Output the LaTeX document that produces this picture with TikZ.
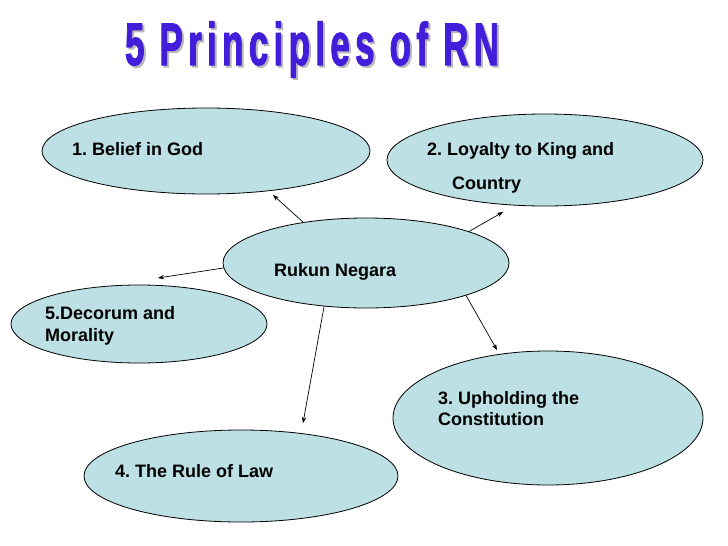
\documentclass[tikz,border=0pt]{standalone}
\usepackage{fontspec}
\setmainfont{Liberation Sans}
\newfontfamily\titlefont[LetterSpace=15,FakeBold=2]{Liberation Sans}
\usetikzlibrary{shapes.geometric, arrows.meta}

\definecolor{rnblue}{RGB}{188,224,228}
\definecolor{rntitle}{RGB}{66,30,218}
\newcommand{\rntitletext}{\scalebox{0.585}[1]{\titlefont\bfseries\fontsize{60}{60}\selectfont 5 Principles of RN}}

\begin{document}
\frenchspacing
\begin{tikzpicture}[x=1pt, y=-1pt, >={Stealth[length=6pt,width=4.5pt]},
  principle/.style={ellipse, draw=black, line width=0.8pt, fill=rnblue, inner sep=0pt},
  ptext/.style={anchor=base west, inner sep=0pt, align=left,
                font=\bfseries\fontsize{18}{21}\selectfont}]

\useasboundingbox[fill=white] (0,0) rectangle (728,546);

% ---- Title (with its grey shadow) --------------------------------------
\node[anchor=base, inner sep=0pt, text=rntitle] (title) at (312,65)
      {\rlap{\kern2pt\raisebox{-2pt}{\color{gray!55}\rntitletext}}\rntitletext};

% ---- Ellipses -----------------------------------------------------------
\node[principle, minimum width=328, minimum height=86]  (belief)    at (206,151) {};
\node[principle, minimum width=316, minimum height=92]  (loyalty)   at (545,160) {};
\node[principle, minimum width=286, minimum height=90]  (rukun)     at (366,263) {};
\node[principle, minimum width=256, minimum height=78]  (decorum)   at (139,324) {};
\node[principle, minimum width=310, minimum height=134] (upholding) at (548,418) {};
\node[principle, minimum width=314, minimum height=92]  (rulelaw)   at (241,476) {};

% ---- Texts (base = baseline of the last line) ---------------------------
\node[ptext] (belieftext)    at (72,155)  {1. Belief in God};
\node[ptext] (loyaltytext)   at (427,189) {2. Loyalty to King and\\[13pt]\hspace*{25pt}Country};
\node[ptext] (rukuntext)     at (274,276) {Rukun Negara};
\node[ptext] (decorumtext)   at (45,341)  {5.Decorum and\\[1pt]Morality};
\node[ptext] (upholdingtext) at (438,425) {3. Upholding the\\Constitution};
\node[ptext] (ruletext)      at (115,477) {4. The Rule of Law};

% ---- Arrows -------------------------------------------------------------
\coordinate (tipbelief)    at (273,195);
\coordinate (tiployalty)   at (503,212);
\coordinate (tipdecorum)   at (158,278);
\coordinate (tiprule)      at (303,423);
\coordinate (tipupholding) at (497,350);
\foreach \a/\t in {147/tipbelief, 17/tiployalty, 182/tipdecorum, 226/tiprule, 342/tipupholding}
  {\draw[->, line width=0.7pt] (rukun.\a) -- (\t);}

\end{tikzpicture}
\end{document}
